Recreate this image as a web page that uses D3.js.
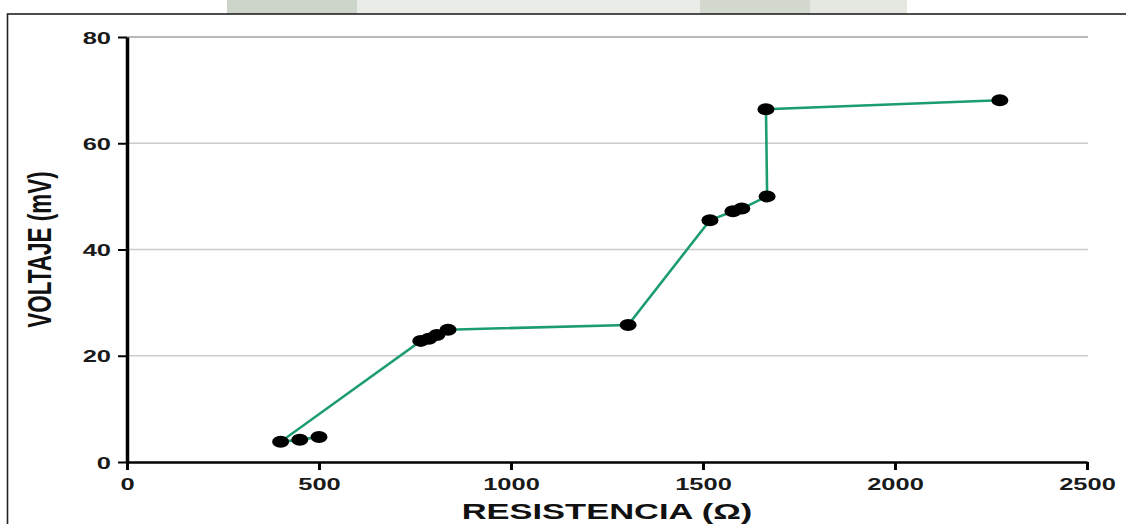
<!DOCTYPE html>
<html>
<head>
<meta charset="utf-8">
<script src="https://cdn.jsdelivr.net/npm/d3@7/dist/d3.min.js"></script>
<style>
  html, body { margin: 0; padding: 0; background: #fff; }
  svg { display: block; }
  text { font-family: "Liberation Sans", Arial, sans-serif; font-weight: bold; }
</style>
</head>
<body>
<svg id="chart" width="1126" height="524"></svg>
<script>
// ---- data ----
const resistencia = [500, 450, 400, 765, 786, 807, 836, 1305, 1518, 1578, 1601, 1667, 1664, 2273];
const voltaje     = [4.7, 4.2, 3.8, 22.8, 23.2, 23.9, 24.9, 25.8, 45.5, 47.2, 47.7, 50.0, 66.4, 68.1];
const xTicks = [0, 500, 1000, 1500, 2000, 2500];
const yTicks = [0, 20, 40, 60, 80];
const xTitle = "RESISTENCIA (\u03A9)";
const yTitle = "VOLTAJE (mV)";

const svg = d3.select("#chart");
const W = 1126, H = 524;
const SX = 1.5; // horizontal stretch of the text in the reference

// faint watermark fragment above the frame
const wm = svg.append("g");
wm.append("rect").attr("x", 227).attr("y", 0).attr("width", 130).attr("height", 14).attr("fill", "#cdd4c9");
wm.append("rect").attr("x", 357).attr("y", 0).attr("width", 343).attr("height", 14).attr("fill", "#e9ece7");
wm.append("rect").attr("x", 700).attr("y", 0).attr("width", 110).attr("height", 14).attr("fill", "#d3d9cf");
wm.append("rect").attr("x", 810).attr("y", 0).attr("width", 97).attr("height", 14).attr("fill", "#e4e8e1");
svg.append("rect").attr("x", 0).attr("y", 14).attr("width", W).attr("height", H).attr("fill", "#fff");

// frame
svg.append("rect").attr("x", 7.5).attr("y", 14).attr("width", W + 20).attr("height", H + 20)
  .attr("fill", "none").attr("stroke", "#222").attr("stroke-width", 1.6);

const x = d3.scaleLinear().domain([0, 2500]).range([127, 1087]);
const y = d3.scaleLinear().domain([0, 80]).range([462, 37]);

// gridlines
svg.append("g").selectAll("line").data(yTicks.filter(d => d > 0)).join("line")
  .attr("x1", x(0)).attr("x2", x(2500) + 1)
  .attr("y1", d => y(d)).attr("y2", d => y(d))
  .attr("stroke", d => d === 80 ? "#a0a0a0" : "#cccccc")
  .attr("stroke-width", 1.6);

// y axis
const gy = svg.append("g").attr("transform", `translate(${x(0)},0)`)
  .call(d3.axisLeft(y).tickValues(yTicks).tickSize(9).tickSizeOuter(0).tickFormat(d3.format("d")));
gy.select(".domain").attr("stroke", "#000").attr("stroke-width", 3.5);
gy.selectAll(".tick line").attr("stroke", "#000").attr("stroke-width", 2);
gy.selectAll(".tick text")
  .attr("x", -16 / SX).attr("dy", "0.36em")
  .attr("transform", `scale(${SX},1)`)
  .attr("font-size", 17).attr("fill", "#1a1a1a");

// x axis
const gx = svg.append("g").attr("transform", `translate(0,${y(0)})`)
  .call(d3.axisBottom(x).tickValues(xTicks).tickSize(8).tickSizeOuter(0).tickFormat(d3.format("d")));
gx.select(".domain").attr("stroke", "#000").attr("stroke-width", 2.6);
gx.selectAll(".tick line").attr("stroke", "#000").attr("stroke-width", 3);
gx.selectAll(".tick text")
  .attr("y", 28).attr("dy", 0)
  .attr("transform", `scale(${SX},1)`)
  .attr("font-size", 17).attr("fill", "#1a1a1a");

// line
const pts = resistencia.map((r, i) => [r, voltaje[i]]);
svg.append("path").datum(pts)
  .attr("fill", "none").attr("stroke", "#1c9d6e").attr("stroke-width", 2.6)
  .attr("d", d3.line().x(d => x(d[0])).y(d => y(d[1])));

// markers
svg.append("g").selectAll("ellipse").data(pts).join("ellipse")
  .attr("cx", d => x(d[0])).attr("cy", d => y(d[1]))
  .attr("rx", 8.5).attr("ry", 6).attr("fill", "#000");

// axis titles
svg.append("text")
  .attr("transform", `translate(${(x(0) + x(2500)) / 2},519) scale(${SX},1)`)
  .attr("text-anchor", "middle").attr("font-size", 23).attr("fill", "#111")
  .text(xTitle);
svg.append("text")
  .attr("transform", `translate(51,${(y(0) + y(80)) / 2}) scale(${SX},1) rotate(-90)`)
  .attr("text-anchor", "middle").attr("font-size", 22.5).attr("fill", "#111")
  .text(yTitle);
</script>
</body>
</html>
